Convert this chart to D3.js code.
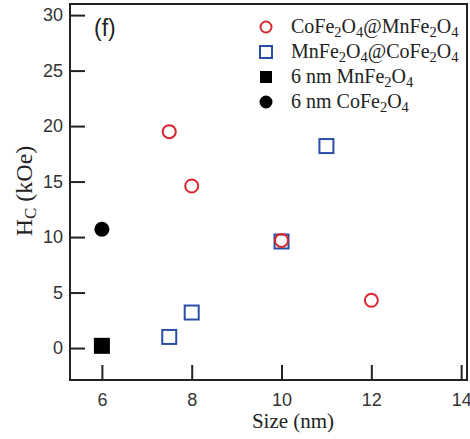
<!DOCTYPE html>
<html><head><meta charset="utf-8">
<script src="https://cdn.jsdelivr.net/npm/d3@7"></script>
<style>body{margin:0;background:#fff}svg{display:block}</style>
</head><body>
<svg id="c" width="470" height="439"></svg>
<script>
const coreShellSizes = [7.5, 8, 10, 12];
const coreShellHc = [19.5, 14.6, 9.7, 4.3];
const invShellSizes = [7.5, 8, 10, 11];
const invShellHc = [1.0, 3.2, 9.6, 18.2];
const mnSize = [6];
const mnHc = [0.2];
const coSize = [6];
const coHc = [10.7];
const xTicks = [6, 8, 10, 12, 14];
const yTicks = [0, 5, 10, 15, 20, 25, 30];

const svg = d3.select("#c");
const L = 70, R = 467, T = 4, B = 380;
const x = d3.scaleLinear().domain([5.29, 14.13]).range([L, R]);
const y = d3.scaleLinear().domain([-2.88, 31.0]).range([B, T]);
const red = "#d8282f", blue = "#2a4ea6", dark = "#222";

// frame
svg.append("rect").attr("x", L).attr("y", T).attr("width", R - L).attr("height", B - T)
  .attr("fill", "none").attr("stroke", dark).attr("stroke-width", 2);

// axes with inward ticks
const xAxis = svg.append("g").attr("transform", `translate(0,${B})`)
  .call(d3.axisBottom(x).tickValues(xTicks).tickSize(-15).tickPadding(13).tickFormat(d3.format("d")));
const yAxis = svg.append("g").attr("transform", `translate(${L},0)`)
  .call(d3.axisLeft(y).tickValues(yTicks).tickSize(-15).tickPadding(24).tickFormat(d3.format("d")));
[xAxis, yAxis].forEach(a => {
  a.select(".domain").remove();
  a.selectAll(".tick line").attr("stroke", dark).attr("stroke-width", 2);
  a.selectAll(".tick text").attr("fill", "#333").style("font-family", "'Liberation Sans', Arial, sans-serif").style("font-size", "18px");
});
yAxis.selectAll(".tick text").attr("x", -7);

// (f)
svg.append("text").attr("x", 94).attr("y", 36).text("(f)")
  .style("font-family", "'Liberation Sans', Arial, sans-serif").style("font-size", "23px").attr("fill", "#222");

// data markers
const pts = (xs, ys) => xs.map((v, i) => [v, ys[i]]);
svg.append("g").selectAll("rect").data(pts(invShellSizes, invShellHc)).join("rect")
  .attr("x", d => x(d[0]) - 7).attr("y", d => y(d[1]) - 7).attr("width", 14).attr("height", 14)
  .attr("fill", "none").attr("stroke", blue).attr("stroke-width", 2);
svg.append("g").selectAll("circle").data(pts(coreShellSizes, coreShellHc)).join("circle")
  .attr("cx", d => x(d[0])).attr("cy", d => y(d[1])).attr("r", 6.5)
  .attr("fill", "none").attr("stroke", red).attr("stroke-width", 2);
svg.append("g").selectAll("rect").data(pts(mnSize, mnHc)).join("rect")
  .attr("x", d => x(d[0]) - 8).attr("y", d => y(d[1]) - 8).attr("width", 16).attr("height", 16)
  .attr("fill", "#000");
svg.append("g").selectAll("circle").data(pts(coSize, coHc)).join("circle")
  .attr("cx", d => x(d[0])).attr("cy", d => y(d[1])).attr("r", 7.5).attr("fill", "#000");

// legend
const serif = "'Liberation Serif', 'Times New Roman', serif";
const legend = [
  {type: "oc", parts: ["CoFe", "2", "O", "4", "@MnFe", "2", "O", "4"]},
  {type: "os", parts: ["MnFe", "2", "O", "4", "@CoFe", "2", "O", "4"]},
  {type: "fs", parts: ["6 nm MnFe", "2", "O", "4"]},
  {type: "fc", parts: ["6 nm CoFe", "2", "O", "4"]}
];
const lx = 266, tx = 291, ly0 = 27, dy = 25;
legend.forEach((it, i) => {
  const cy = ly0 + i * dy;
  if (it.type === "oc") svg.append("circle").attr("cx", lx).attr("cy", cy).attr("r", 5.5).attr("fill", "none").attr("stroke", red).attr("stroke-width", 2);
  if (it.type === "os") svg.append("rect").attr("x", lx - 6).attr("y", cy - 6).attr("width", 12).attr("height", 12).attr("fill", "none").attr("stroke", blue).attr("stroke-width", 2);
  if (it.type === "fs") svg.append("rect").attr("x", lx - 6).attr("y", cy - 6).attr("width", 12).attr("height", 12).attr("fill", "#000");
  if (it.type === "fc") svg.append("circle").attr("cx", lx).attr("cy", cy).attr("r", 6.5).attr("fill", "#000");
  const t = svg.append("text").attr("x", tx).attr("y", cy + 6).attr("fill", "#222")
    .style("font-family", serif).style("font-size", "20px");
  it.parts.forEach((p, j) => {
    const sub = /^[0-9]$/.test(p) && j > 0;
    t.append("tspan").text(p)
      .attr("dy", sub ? 4 : (j > 0 ? -4 : 0))
      .style("font-size", sub ? "14.5px" : "20px");
  });
});

// axis titles
svg.append("text").attr("x", 293).attr("y", 428).attr("text-anchor", "middle")
  .style("font-family", serif).style("font-size", "21px").attr("fill", "#222").text("Size (nm)");
const yt = svg.append("text").attr("transform", "translate(32,191) rotate(-90)").attr("text-anchor", "middle")
  .style("font-family", serif).style("font-size", "24px").attr("fill", "#222");
yt.append("tspan").text("H");
yt.append("tspan").text("C").attr("dy", 4).style("font-size", "17px");
yt.append("tspan").text(" (kOe)").attr("dy", -4);
</script>
</body></html>
